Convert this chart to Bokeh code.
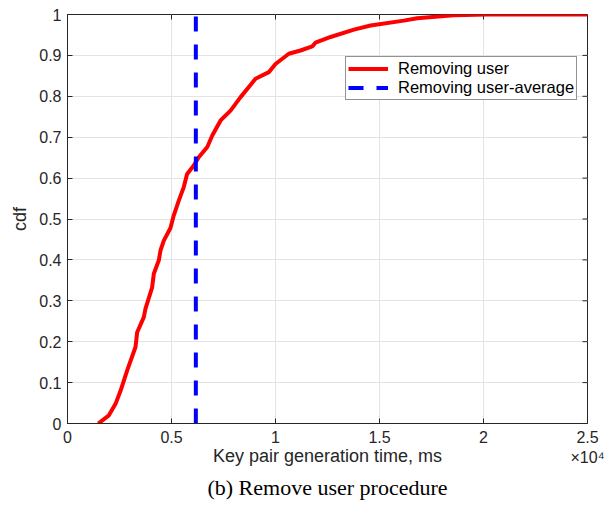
import math
from bokeh.plotting import figure
from bokeh.models import (FixedTicker, Legend, LegendItem, Title)
from bokeh.embed import file_html
from bokeh.resources import INLINE

# ---- data ----
time_ms = [1480, 1990, 2310, 2550, 2870, 3270, 3350, 3670, 3750, 4070, 4150,
           4390, 4470, 4630, 4950, 5110, 5350, 5590, 5750, 6070, 6310, 6720,
           6960, 7360, 7840, 8320, 8640, 9040, 9680, 10000, 10640, 11200,
           11770, 11920, 12650, 13770, 14570, 16170, 16810, 18570, 20180, 25000]
cdf = [0.0, 0.02, 0.048, 0.08, 0.13, 0.187, 0.223, 0.26, 0.281, 0.333, 0.366,
       0.399, 0.423, 0.447, 0.478, 0.509, 0.545, 0.578, 0.610, 0.631, 0.651, 0.676,
       0.704, 0.741, 0.765, 0.798, 0.818, 0.843, 0.859, 0.879, 0.904, 0.912,
       0.922, 0.931, 0.945, 0.963, 0.973, 0.985, 0.991, 0.998, 1.0, 1.0]
avg_ms = 6170
avg_line_x = [avg_ms, avg_ms]
avg_line_y = [0.0, 1.0]

x_ticks = [0, 5000, 10000, 15000, 20000, 25000]
x_tick_labels = ["0", "0.5", "1", "1.5", "2", "2.5\n\u00d710\u2074"]
y_ticks = [0, 0.1, 0.2, 0.3, 0.4, 0.5, 0.6, 0.7, 0.8, 0.9, 1]
y_tick_labels = ["0", "0.1", "0.2", "0.3", "0.4", "0.5", "0.6", "0.7", "0.8", "0.9", "1"]

series_names = ["Removing user", "Removing user-average"]
x_label = "Key pair generation time, ms"
y_label = "cdf"
caption = "(b) Remove user procedure"

FONT = "Liberation Sans"
DARK = "#262626"

p = figure(frame_width=520, frame_height=409, x_range=(0, 25000), y_range=(0, 1),
           output_backend="svg", toolbar_location=None,
           min_border_left=67, min_border_right=25, min_border_top=14, min_border_bottom=94)
p.background_fill_color = "white"
p.border_fill_color = "white"
p.outline_line_color = DARK
p.outline_line_width = 1

xa = p.xaxis[0]
ya = p.yaxis[0]
xa.ticker = FixedTicker(ticks=x_ticks)
xa.major_label_overrides = {t: l for t, l in zip(x_ticks, x_tick_labels)}
ya.ticker = FixedTicker(ticks=y_ticks)
ya.major_label_overrides = {t: l for t, l in zip(y_ticks, y_tick_labels)}

for ax in (xa, ya):
    ax.axis_line_color = DARK
    ax.axis_line_width = 1
    ax.major_tick_line_color = DARK
    ax.major_tick_in = 5
    ax.major_tick_out = 0
    ax.minor_tick_line_color = None
    ax.major_label_text_font = FONT
    ax.major_label_text_color = DARK
    ax.major_label_text_font_size = "16px"
    ax.axis_label_text_font = FONT
    ax.axis_label_text_font_size = "18px"
    ax.axis_label_text_font_style = "normal"
    ax.axis_label_text_color = DARK
xa.major_label_standoff = 5
ya.major_label_standoff = 6
xa.axis_label = x_label
ya.axis_label = y_label
xa.axis_label_standoff = -23
ya.axis_label_standoff = 6

# inward tick marks on the top and right edges of the box
p.ray(x=x_ticks, y=[1] * len(x_ticks), length=5, length_units="screen",
      angle=-math.pi / 2, line_color=DARK, line_width=1)
p.ray(x=[25000] * len(y_ticks), y=y_ticks, length=5, length_units="screen",
      angle=math.pi, line_color=DARK, line_width=1)

p.xgrid.ticker = FixedTicker(ticks=x_ticks)
p.ygrid.ticker = FixedTicker(ticks=y_ticks)
p.grid.grid_line_color = "#e3e3e3"
p.grid.grid_line_width = 1

r_cdf = p.line(time_ms, cdf, line_color="#ff0000", line_width=4)
r_avg = p.line(avg_line_x, avg_line_y, line_color="#0000ff", line_width=4, line_dash="15 13")

legend = Legend(items=[LegendItem(label=series_names[0], renderers=[r_cdf]),
                       LegendItem(label=series_names[1], renderers=[r_avg])],
                location=(278, 323))
legend.label_text_font = FONT
legend.label_text_font_size = "16.5px"
legend.label_text_color = "black"
legend.glyph_width = 40
legend.glyph_height = 17
legend.label_height = 17
legend.label_standoff = 10
legend.padding = 2
legend.spacing = 0
legend.margin = 0
legend.border_line_color = DARK
legend.border_line_width = 1
legend.background_fill_color = "white"
legend.background_fill_alpha = 1
p.add_layout(legend)

t = Title(text=caption, align="center", text_font="Liberation Serif",
          text_font_size="22px", text_font_style="normal", text_color="black",
          standoff=9)
p.add_layout(t, "below")

open("out.html", "w").write(file_html(p, INLINE))
